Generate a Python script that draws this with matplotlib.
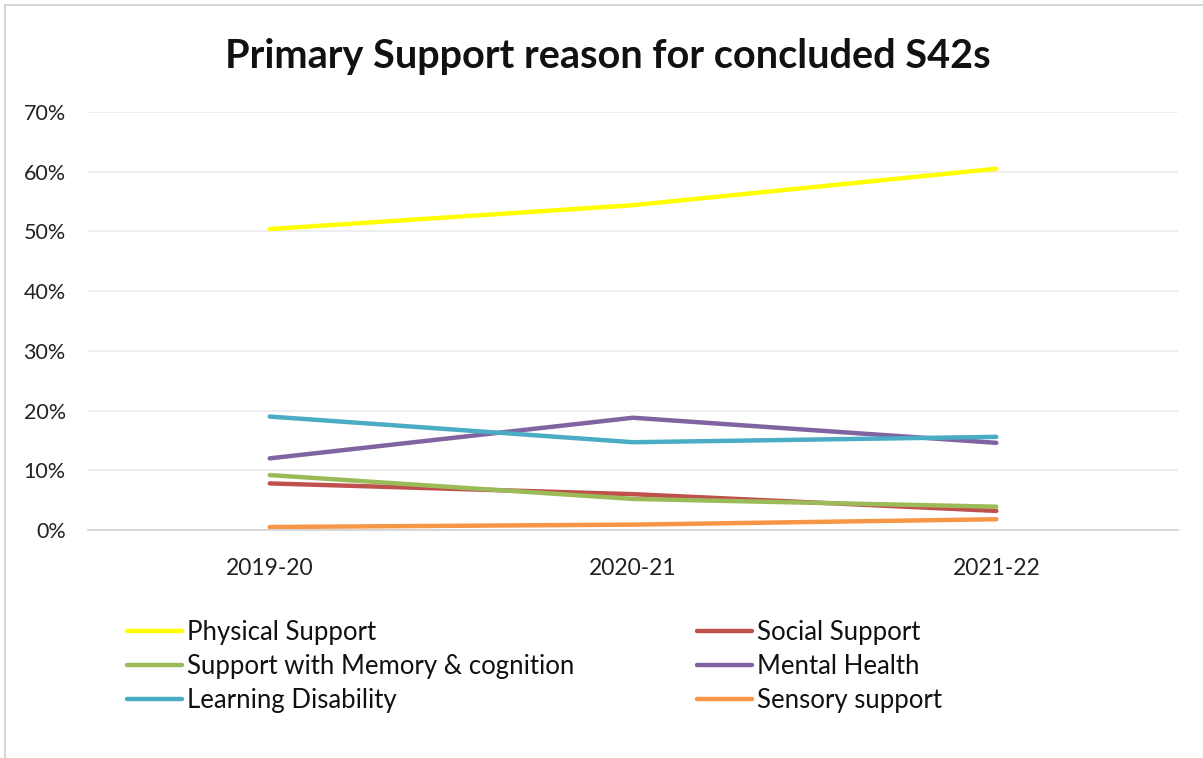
import matplotlib
matplotlib.use("Agg")
import matplotlib.pyplot as plt
from matplotlib.patches import Rectangle
from matplotlib.ticker import PercentFormatter

years = ["2019-20", "2020-21", "2021-22"]
physical = [0.504, 0.544, 0.605]
social = [0.078, 0.060, 0.032]
memory = [0.092, 0.052, 0.039]
mental = [0.120, 0.188, 0.146]
learning = [0.190, 0.147, 0.156]
sensory = [0.005, 0.009, 0.018]

series = [
    ("Physical Support", physical, "#FFFF00"),
    ("Social Support", social, "#C0504D"),
    ("Support with Memory & cognition", memory, "#9BBB59"),
    ("Mental Health", mental, "#8064A2"),
    ("Learning Disability", learning, "#4BACC6"),
    ("Sensory support", sensory, "#F79646"),
]

plt.rcParams['font.family'] = ['Lato', 'DejaVu Sans']

fig = plt.figure(figsize=(12.03, 7.58), dpi=100)
fig.patches.append(Rectangle((0.004, -0.01), 1.2, 1.003, transform=fig.transFigure,
                             fill=False, edgecolor="#D0D0D0", lw=1.2))
ax = fig.add_axes([0.0732, 0.3008, 0.906, 0.5514])

handles = {}
for name, vals, col in series:
    h, = ax.plot(range(len(years)), vals, color=col, lw=3.2, label=name,
                 solid_capstyle='round')
    handles[name] = h

ax.set_xlim(-0.5, 2.5)
ax.set_ylim(0, 0.7)
ax.set_yticks([i / 10 for i in range(8)])
ax.yaxis.set_major_formatter(PercentFormatter(1.0, decimals=0))
ax.set_xticks(range(len(years)))
ax.set_xticklabels(years)
ax.tick_params(axis='both', length=0, colors="#222222")
ax.tick_params(axis='x', pad=20, labelsize=16.5)
ax.tick_params(axis='y', pad=16, labelsize=15.5)
ax.grid(axis='y', color="#EBEBEB", lw=1.2)
ax.set_axisbelow(True)
for s in ["top", "right", "left"]:
    ax.spines[s].set_visible(False)
ax.spines["bottom"].set_color("#D0D0D0")
ax.spines["bottom"].set_linewidth(1.2)

fig.text(0.505, 0.926, "Primary Support reason for concluded S42s", ha="center", va="center",
         fontsize=28.5, fontweight="bold", color="#111111")

order = ["Physical Support", "Support with Memory & cognition", "Learning Disability",
         "Social Support", "Mental Health", "Sensory support"]
leg = fig.legend([handles[n] for n in order], order, ncol=2, loc="upper left",
                 bbox_to_anchor=(0.097, 0.195), frameon=False, fontsize=18.5,
                 handlelength=2.14, handletextpad=0.2, columnspacing=4.77,
                 labelspacing=0.34, borderaxespad=0)
for t in leg.get_texts():
    t.set_color("#111111")

fig.savefig("out.png", dpi=100)
